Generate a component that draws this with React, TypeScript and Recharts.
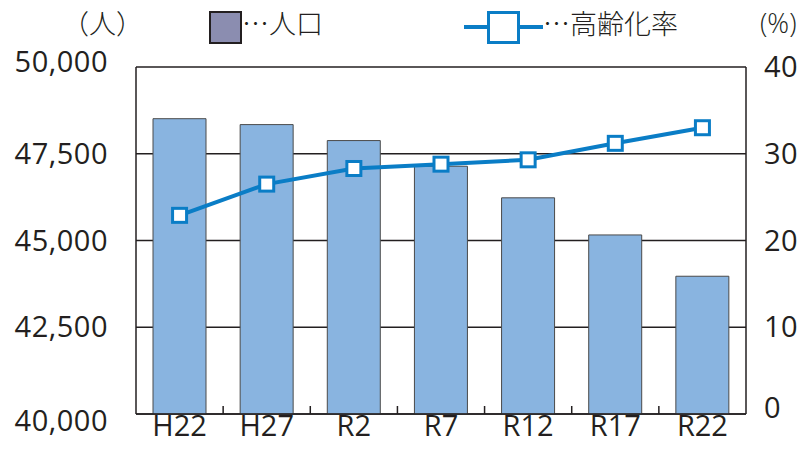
import React from "react";
import { ComposedChart, Bar, Line, XAxis, YAxis, CartesianGrid } from "recharts";

const categories = ["H22", "H27", "R2", "R7", "R12", "R17", "R22"];
const population = [48510, 48340, 47880, 47140, 46230, 45160, 43970];
const agingRate = [22.9, 26.5, 28.3, 28.8, 29.3, 31.2, 33.0];
const leftTicks = [40000, 42500, 45000, 47500, 50000];
const rightTicks = [0, 10, 20, 30, 40];

const data = categories.map((c, i) => ({ cat: c, pop: population[i], rate: agingRate[i] }));

const FONT = "'Open Sans', 'Noto Sans', sans-serif";
const TEXT = "#231f20";
const BLUE = "#0a7dc6";

const leftDy = [7, 0, 0, 0, -5];
const rightDy = [-6, 0, 0, 0, 0];

const LeftTick = (props: any) => {
  const { x, y, payload, index } = props;
  return (
    <text x={x} y={y} dy={10 + (leftDy[index] || 0)} textAnchor="end" fill={TEXT} fontSize={29} fontWeight={400} fontFamily={FONT} letterSpacing={0.5}>
      {Number(payload.value).toLocaleString("en-US")}
    </text>
  );
};

const RightTick = (props: any) => {
  const { x, y, payload, index } = props;
  return (
    <text x={x} y={y} dy={10 + (rightDy[index] || 0)} textAnchor="start" fill={TEXT} fontSize={29} fontWeight={400} fontFamily={FONT} letterSpacing={0.5}>
      {payload.value}
    </text>
  );
};

const XTick = (props: any) => {
  const { x, y, payload, index, width, visibleTicksCount } = props;
  const step = width / (visibleTicksCount || categories.length);
  const axisY = y - 2;
  return (
    <g>
      {index < categories.length - 1 ? (
        <line x1={x + step / 2} x2={x + step / 2} y1={axisY} y2={axisY - 8} stroke="#231f20" strokeWidth={1.5} />
      ) : null}
      <text x={x} y={y} dy={20} textAnchor="middle" fill={TEXT} fontSize={29} fontWeight={400} fontFamily={FONT}>
        {payload.value}
      </text>
    </g>
  );
};

const SquareDot = (props: any) => {
  const { cx, cy, index } = props;
  return <rect key={"d" + index} x={cx - 7} y={cy - 7} width={14} height={14} fill="#ffffff" stroke={BLUE} strokeWidth={3} />;
};

export default function App() {
  const textStyle: React.CSSProperties = { position: "absolute", fontFamily: "'Noto Sans CJK JP', sans-serif", fontSize: 27, fontWeight: 300, color: TEXT, lineHeight: "30px", whiteSpace: "nowrap" };
  return (
    <div style={{ position: "absolute", left: 0, top: 0, width: 805, height: 450, background: "#fff" }}>
      <ComposedChart width={805} height={450} data={data} margin={{ top: 67, right: 0, bottom: 0, left: 0 }}>
        <CartesianGrid vertical={false} stroke="#231f20" strokeWidth={1.5} yAxisId="left" />
        <XAxis dataKey="cat" height={36} tick={<XTick />} tickLine={false} tickSize={0} tickMargin={2} axisLine={{ stroke: "#231f20", strokeWidth: 1.5 }} interval={0} />
        <YAxis yAxisId="left" orientation="left" width={136} domain={[40000, 50000]} ticks={leftTicks} tick={<LeftTick />} tickLine={false} tickSize={0} tickMargin={28} axisLine={{ stroke: "#231f20", strokeWidth: 1.5 }} allowDataOverflow />
        <YAxis yAxisId="right" orientation="right" width={59} domain={[0, 40]} ticks={rightTicks} tick={<RightTick />} tickLine={false} tickSize={0} tickMargin={18} axisLine={{ stroke: "#231f20", strokeWidth: 1.5 }} />
        <Bar yAxisId="left" dataKey="pop" fill="#89b4e0" stroke="#4a4a4a" strokeWidth={1} barSize={53} isAnimationActive={false} />
        <Line yAxisId="right" dataKey="rate" stroke={BLUE} strokeWidth={4} dot={<SquareDot />} activeDot={false} isAnimationActive={false} />
      </ComposedChart>
      <div style={{ ...textStyle, left: 62, top: 8 }}>（人）</div>
      <div style={{ position: "absolute", left: 209, top: 11, width: 29, height: 29, background: "#8b8db0", border: "2px solid #231f20" }} />
      <div style={{ ...textStyle, left: 242, top: 8 }}>…人口</div>
      <div style={{ position: "absolute", left: 464, top: 25, width: 79, height: 4, background: BLUE }} />
      <div style={{ position: "absolute", left: 487, top: 11, width: 27, height: 27, background: "#fff", border: `3px solid ${BLUE}` }} />
      <div style={{ ...textStyle, left: 543, top: 8 }}>…高齢化率</div>
      <div style={{ ...textStyle, left: 760, top: 8, fontFamily: FONT }}>(%)</div>
    </div>
  );
}
